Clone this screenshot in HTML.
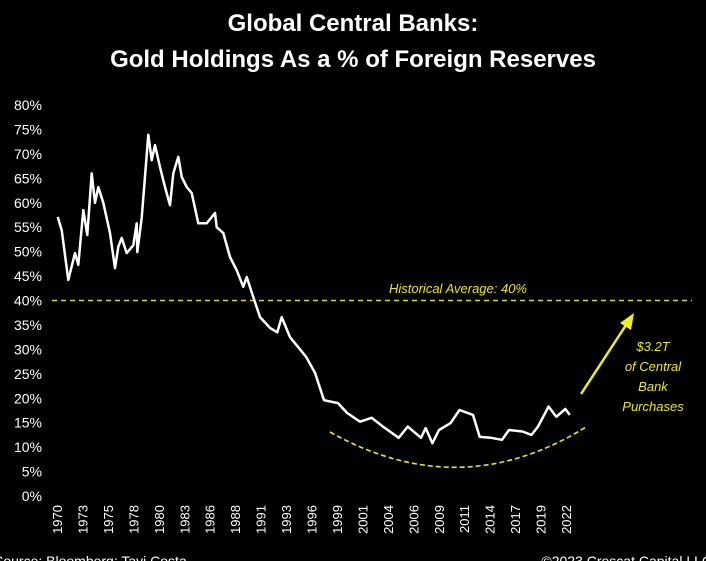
<!DOCTYPE html>
<html><head><meta charset="utf-8"><style>
html,body{margin:0;padding:0;background:#000;}
svg{display:block;font-family:"Liberation Sans",sans-serif;}
</style></head><body>
<svg id="chart" width="706" height="561" viewBox="0 0 706 561">
<rect width="706" height="561" fill="#000"/>
<text x="353" y="31" fill="#fff" font-size="24" font-weight="bold" text-anchor="middle">Global Central Banks:</text>
<text x="353" y="67" fill="#fff" font-size="24" font-weight="bold" text-anchor="middle">Gold Holdings As a % of Foreign Reserves</text>
<g id="yaxis"></g>
<g id="xaxis"></g>
<g id="marks"></g>
<text x="458" y="293" fill="#e6e62a" font-size="13" font-style="italic" text-anchor="middle">Historical Average: 40%</text>
<path d="M330,432 Q460,505 586,427" fill="none" stroke="#e6e62a" stroke-width="1.6" stroke-dasharray="5,3"/>
<line x1="581" y1="394" x2="628" y2="322" stroke="#f0f020" stroke-width="2.5"/>
<polygon points="634,313 631,330 620,323" fill="#f0f020"/>
<g fill="#e6e62a" font-size="13" font-style="italic" text-anchor="middle">
<text x="653" y="351">$3.2T</text><text x="653" y="371">of Central</text><text x="653" y="391">Bank</text><text x="653" y="411">Purchases</text></g>
<text x="-6" y="566" fill="#fff" font-size="14">Source: Bloomberg; Tavi Costa</text>
<text x="712" y="566" fill="#fff" font-size="14" text-anchor="end">©2023 Crescat Capital LLC</text>
</svg>
<script>
const yTicks=[0,5,10,15,20,25,30,35,40,45,50,55,60,65,70,75,80];
const xTickLabels=["1970","1973","1975","1978","1980","1983","1986","1988","1991","1993","1996","1999","2001","2004","2006","2009","2011","2014","2017","2019","2022"];
const averageValue=40;
const years=[1970.07,1970.48,1971.15,1971.84,1972.18,1972.69,1973.1,1973.54,1973.88,1974.22,1974.73,1975.41,1975.92,1976.26,1976.61,1977.12,1977.79,1978.14,1978.2,1978.65,1979.33,1979.67,1980.01,1980.52,1981.03,1981.54,1981.88,1982.39,1982.74,1983.25,1983.76,1984.43,1985.29,1986.14,1986.31,1986.99,1987.67,1988.36,1989.03,1989.38,1990.05,1990.74,1991.76,1992.5,1992.95,1993.8,1995.43,1996.35,1997.27,1998.7,1999.62,2000.95,2002.13,2003.3,2004.9,2005.82,2007.18,2007.66,2008.35,2009.02,2010.19,2011.11,2012.49,2013.18,2014.33,2015.45,2016.17,2017.55,2018.47,2019.13,2020.21,2021,2021.92,2022.38];
const values=[57.1,54.4,44.2,49.7,47.3,58.5,53.4,66,60,63.2,60,53.8,46.6,51,52.8,49.7,51.3,55.8,49.9,56.9,73.9,68.7,71.8,67.3,63.2,59.5,66,69.4,65.3,63.2,62,55.8,55.8,57.9,55,53.8,48.9,46.2,42.8,44.8,40.7,36.6,34.4,33.5,36.6,32.5,28.5,25.2,19.6,19,17,15.2,16,14.2,11.9,14.2,11.9,13.9,10.8,13.5,14.9,17.6,16.6,12.1,11.9,11.5,13.5,13.2,12.5,14.2,18.3,16.2,17.8,16.6];
const NS="http://www.w3.org/2000/svg";
function yS(v){return 496-v*4.8875;}
function xS(yr){return 57+(yr-1970)*9.79;}
function mk(t,a,p){const e=document.createElementNS(NS,t);for(const k in a)e.setAttribute(k,a[k]);p.appendChild(e);return e;}
const ya=document.getElementById('yaxis');
yTicks.forEach(v=>{const t=mk('text',{x:42,y:yS(v)+5,fill:'#fff','font-size':14,'text-anchor':'end'},ya);


t.textContent=v+'%';});
const xa=document.getElementById('xaxis');
xTickLabels.forEach((l,i)=>{const x=57+i*(509/(xTickLabels.length-1));
const t=mk('text',{transform:`translate(${x+5},505) rotate(-90)`,fill:'#fff','font-size':13,'text-anchor':'end'},xa);


t.textContent=l;});
const m=document.getElementById('marks');
const avg=mk('line',{x1:52,x2:692,y1:yS(averageValue),y2:yS(averageValue),stroke:'#d8d830','stroke-width':1.5,'stroke-dasharray':'5,4'},m);


const d=years.map((y,i)=>(i?'L':'M')+xS(y).toFixed(1)+','+yS(values[i]).toFixed(1)).join(' ');
const ln=mk('path',{d:d,fill:'none',stroke:'#fff','stroke-width':2.5,'stroke-linejoin':'round'},m);


</script>
</body></html>
